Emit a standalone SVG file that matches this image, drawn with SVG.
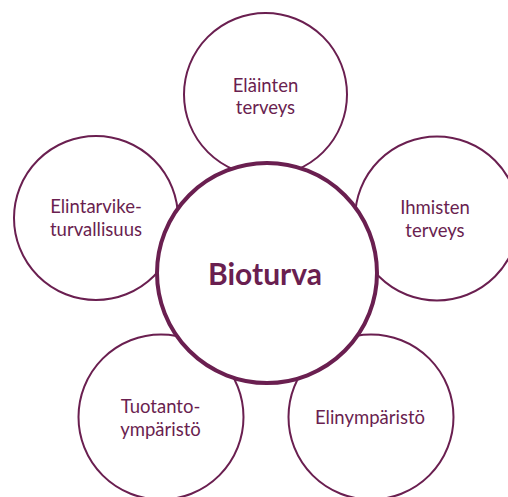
<svg xmlns="http://www.w3.org/2000/svg" width="508" height="497" viewBox="0 0 508 497">
<style>
.outer{fill:#fff;stroke:#6a1f50;stroke-width:2}
.center{fill:#fff;stroke:#6a1f50;stroke-width:4}
.lbl{font-family:Lato,"Open Sans","Liberation Sans",sans-serif;font-size:18.5px;fill:#6a1f50;text-anchor:middle}
.main{font-family:Lato,"Open Sans","Liberation Sans",sans-serif;font-size:30px;font-weight:bold;fill:#6a1f50;text-anchor:middle}
</style>
<rect width="508" height="497" fill="#fff"/>
<g id="elainten-terveys">
<circle class="outer" cx="265.5" cy="94.5" r="81.5"/>
<text class="lbl" x="265.5" y="92">Eläinten</text>
<text class="lbl" x="265.5" y="114">terveys</text>
</g>
<g id="elintarviketurvallisuus">
<circle class="outer" cx="96" cy="218" r="82"/>
<text class="lbl" x="96" y="213">Elintarvike-</text>
<text class="lbl" x="96" y="236">turvallisuus</text>
</g>
<g id="ihmisten-terveys">
<circle class="outer" cx="437" cy="218.5" r="82"/>
<text class="lbl" x="435" y="214">Ihmisten</text>
<text class="lbl" x="435" y="237">terveys</text>
</g>
<g id="tuotantoymparisto">
<circle class="outer" cx="161" cy="417" r="82.5"/>
<text class="lbl" x="160.5" y="413">Tuotanto-</text>
<text class="lbl" x="160.5" y="436">ympäristö</text>
</g>
<g id="elinymparisto">
<circle class="outer" cx="371" cy="417" r="82.5"/>
<text class="lbl" x="370" y="424">Elinympäristö</text>
</g>
<g id="bioturva">
<circle class="center" cx="267" cy="273" r="110"/>
<text class="main" x="265" y="285">Bioturva</text>
</g>
<g id="connectors"/>
</svg>
